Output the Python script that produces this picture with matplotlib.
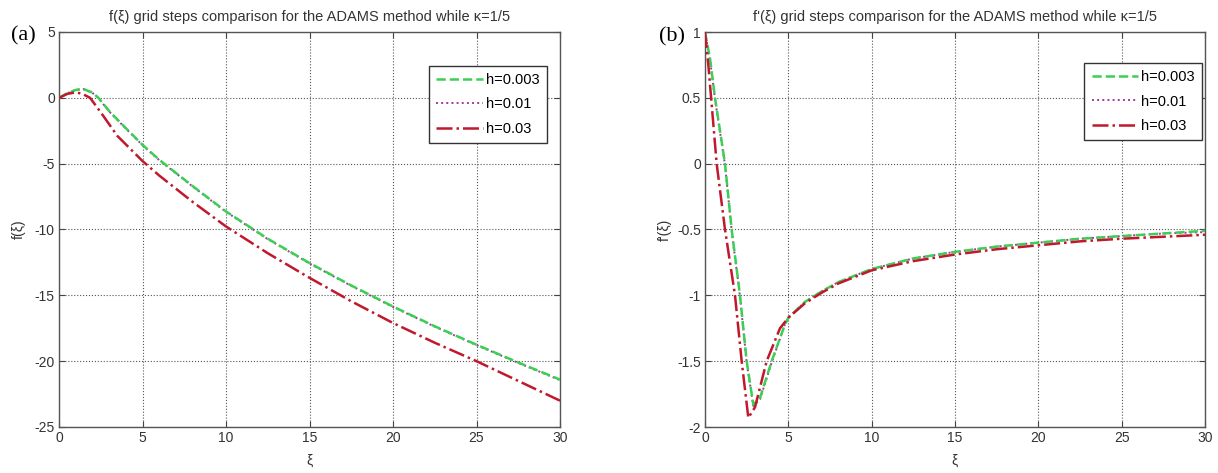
import numpy as np
import matplotlib
matplotlib.use('Agg')
import matplotlib.pyplot as plt

plt.rcParams['font.family'] = ['Liberation Sans', 'DejaVu Sans']

# f(xi), left panel
xi_a_g = [0, 0.5, 1.0, 1.44, 2.0, 2.36, 3, 4, 5, 6, 7, 8, 10, 12.5, 15, 17.5, 20, 22.5, 25, 27.5, 30]
f_h003 = [0, 0.35, 0.6, 0.68, 0.4, 0, -1.0, -2.3, -3.57, -4.7, -5.7, -6.7, -8.63, -10.7, -12.55, -14.25,
          -15.85, -17.35, -18.75, -20.1, -21.4]
f_h001 = [0, 0.35, 0.6, 0.67, 0.38, -0.02, -1.03, -2.33, -3.6, -4.73, -5.73, -6.73, -8.66, -10.73, -12.58,
          -14.28, -15.88, -17.38, -18.78, -20.13, -21.44]
xi_a_r = [0, 0.5, 1.0, 1.4, 1.86, 2.5, 3.5, 5, 6, 7, 8, 10, 12.5, 15, 17.5, 20, 22.5, 25, 27.5, 30]
f_h03 = [0, 0.3, 0.42, 0.3, 0, -1.1, -2.9, -4.8, -5.9, -6.9, -7.9, -9.77, -11.8, -13.67, -15.45, -17.1,
         -18.6, -20.0, -21.5, -23.0]

# f'(xi), right panel
xi_b_g = [0, 0.3, 0.6, 1.2, 1.6, 2.1, 2.5, 2.9, 3.3, 4.0, 4.8, 5, 6, 7, 8, 10, 12.5, 15, 17.5, 20, 22.5,
          25, 27.5, 30]
fp_h003 = [1, 0.8, 0.5, 0, -0.5, -1.0, -1.5, -1.83, -1.78, -1.5, -1.22, -1.17, -1.05, -0.97, -0.9, -0.8,
           -0.72, -0.67, -0.63, -0.6, -0.57, -0.55, -0.53, -0.51]
fp_h001 = [1, 0.79, 0.49, -0.01, -0.51, -1.01, -1.51, -1.84, -1.79, -1.51, -1.22, -1.17, -1.05, -0.97,
           -0.9, -0.8, -0.72, -0.67, -0.63, -0.6, -0.57, -0.55, -0.53, -0.52]
xi_b_r = [0, 0.2, 0.4, 0.7, 1.2, 1.8, 2.2, 2.6, 3.0, 3.7, 4.5, 5, 6, 7, 8, 10, 12.5, 15, 17.5, 20, 22.5,
          25, 27.5, 30]
fp_h03 = [1, 0.75, 0.45, 0, -0.5, -1.0, -1.5, -1.93, -1.85, -1.5, -1.25, -1.17, -1.06, -0.98, -0.91,
          -0.81, -0.74, -0.69, -0.65, -0.62, -0.59, -0.57, -0.555, -0.54]

labels = ['h=0.003', 'h=0.01', 'h=0.03']
c_green = '#3ccf55'
c_dot = '#a03a9a'
c_red = '#c0182c'
txt = '#333333'

fig = plt.figure(figsize=(12.18, 4.73), dpi=100)
ax1 = fig.add_axes([59 / 1218, 1 - 427 / 473, 501 / 1218, 395 / 473])
ax2 = fig.add_axes([705 / 1218, 1 - 427 / 473, 500 / 1218, 395 / 473])


def style(ax, yticks, ylim):
    ax.set_xlim(0, 30)
    ax.set_ylim(*ylim)
    ax.set_xticks([0, 5, 10, 15, 20, 25, 30])
    ax.set_yticks(yticks)
    ax.grid(True, linestyle=':', color='#555555', linewidth=0.8)
    ax.tick_params(direction='in', length=4, colors='#444444', labelcolor=txt, labelsize=10,
                   top=True, right=True, pad=3)
    for s in ax.spines.values():
        s.set_color('#555555')
        s.set_linewidth(1.0)


def legend(ax, handles, anchor):
    ax.legend(handles, labels, loc='upper right', bbox_to_anchor=anchor, borderaxespad=0, fontsize=10.5,
              frameon=True, fancybox=False, edgecolor='#333333', handlelength=3.2, labelspacing=0.7,
              borderpad=0.5, handletextpad=0.2, framealpha=1)


l1, = ax1.plot(xi_a_g, f_h003, '--', color=c_green, lw=1.8, zorder=3)
l2, = ax1.plot(xi_a_g, f_h001, ':', color=c_dot, lw=1.4, zorder=2)
l3, = ax1.plot(xi_a_r, f_h03, '-.', color=c_red, lw=1.8, zorder=4)
style(ax1, [-25, -20, -15, -10, -5, 0, 5], (-25, 5))
ax1.set_yticklabels(['-25', '-20', '-15', '-10', '-5', '0', '5'])
ax1.set_title('f(ξ) grid steps comparison for the ADAMS method while κ=1/5', fontsize=10.5, color=txt, pad=8)
ax1.set_xlabel('ξ', fontsize=10, color=txt, labelpad=6)
ax1.set_ylabel('f(ξ)', fontsize=10, color=txt, labelpad=6)
legend(ax1, [l1, l2, l3], (0.974, 0.914))

m1, = ax2.plot(xi_b_g, fp_h003, '--', color=c_green, lw=1.8, zorder=3)
m2, = ax2.plot(xi_b_g, fp_h001, ':', color=c_dot, lw=1.4, zorder=2)
m3, = ax2.plot(xi_b_r, fp_h03, '-.', color=c_red, lw=1.8, zorder=4)
style(ax2, [-2, -1.5, -1, -0.5, 0, 0.5, 1], (-2, 1))
ax2.set_yticklabels(['-2', '-1.5', '-1', '-0.5', '0', '0.5', '1'])
ax2.set_title("f'(ξ) grid steps comparison for the ADAMS method while κ=1/5", fontsize=10.5, color=txt, pad=8)
ax2.set_xlabel('ξ', fontsize=10, color=txt, labelpad=6)
ax2.set_ylabel("f'(ξ)", fontsize=10, color=txt, labelpad=4)
legend(ax2, [m1, m2, m3], (0.994, 0.9215))

fig.text(11 / 1218, 1 - 36 / 473, '(a)', fontsize=16, family='Liberation Serif', va='center', ha='left')
fig.text(659 / 1218, 1 - 37 / 473, '(b)', fontsize=16, family='Liberation Serif', va='center', ha='left')

fig.savefig('out.png', dpi=100)
